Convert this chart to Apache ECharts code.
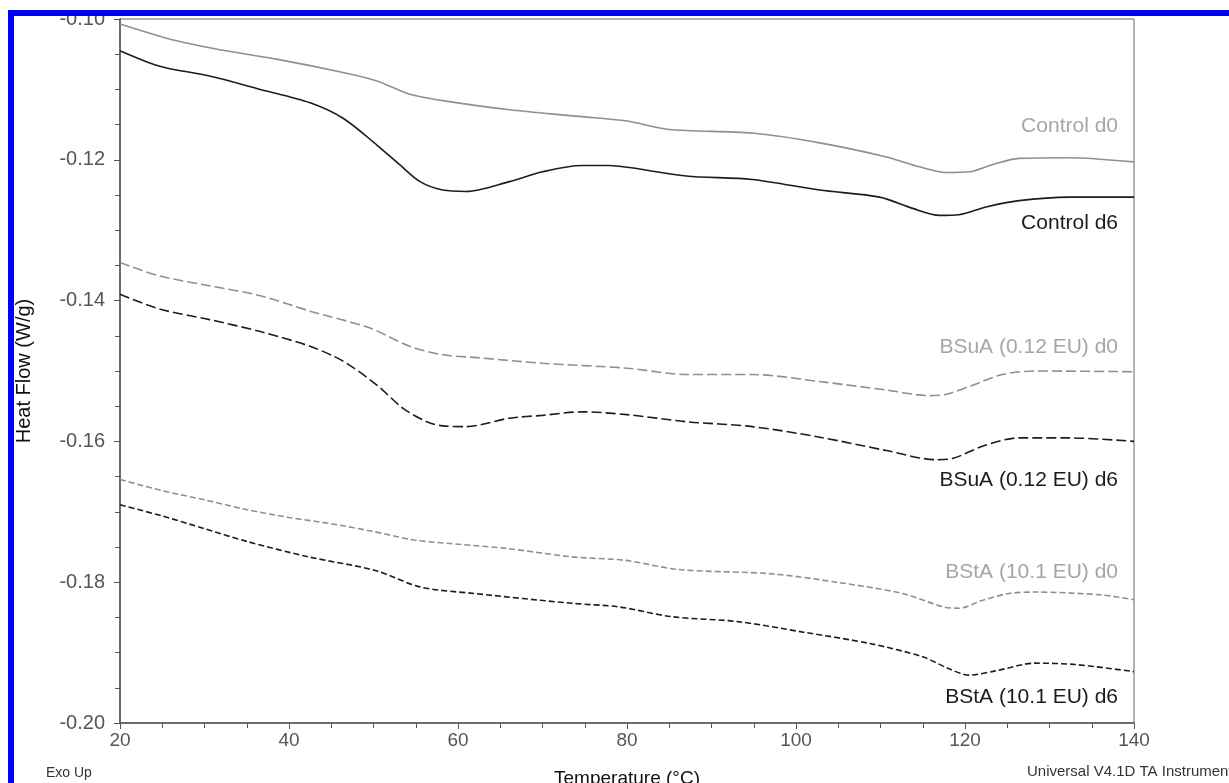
<!DOCTYPE html>
<html>
<head>
<meta charset="utf-8">
<script src="https://cdn.jsdelivr.net/npm/echarts@6/dist/echarts.min.js"></script>
<style>
html,body{margin:0;padding:0;background:#fff;}
#main{width:1229px;height:783px;}
</style>
</head>
<body>
<div id="main"></div>
<script>
// DSC curves, values
var ctrlD0T = [20, 26.7, 32, 38.5, 46.4, 50.4, 54.3, 58.2, 66.1, 74, 80, 85, 94.8, 102.8, 110.7, 114.6, 117.8, 120.5, 123.2, 126.4, 132.3, 140];
var ctrlD0 = [-0.1007, -0.1031, -0.1044, -0.1057, -0.1076, -0.1088, -0.1107, -0.1116, -0.1129, -0.1138, -0.1145, -0.1157, -0.1162, -0.1176, -0.1196, -0.1210, -0.1218, -0.1217, -0.1207, -0.1198, -0.1197, -0.1203];

var ctrlD6T = [20, 24.7, 30.6, 36.6, 42.5, 46.4, 50.4, 53.1, 55.5, 58.2, 61, 66.1, 70, 74.7, 77.9, 80.3, 87, 94.8, 102.8, 109.9, 113.8, 117, 119.3, 122.5, 126.4, 132.3, 140];
var ctrlD6 = [-0.1045, -0.1067, -0.1081, -0.1100, -0.1119, -0.1141, -0.1179, -0.1207, -0.1231, -0.1243, -0.1245, -0.1231, -0.1217, -0.1208, -0.1208, -0.1211, -0.1223, -0.1228, -0.1243, -0.1253, -0.1269, -0.1279, -0.1278, -0.1267, -0.1258, -0.1253, -0.1253];

var bsuaD0T = [20, 24.7, 30.6, 36.6, 42.5, 49.6, 54.3, 58.2, 62.2, 70, 80, 87, 94.8, 102.8, 110.7, 115.8, 117.8, 120.5, 124.4, 128.3, 140];
var bsuaD0 = [-0.1346, -0.1365, -0.1379, -0.1393, -0.1415, -0.1439, -0.1465, -0.1477, -0.1481, -0.1489, -0.1496, -0.1505, -0.1505, -0.1515, -0.1527, -0.1535, -0.1533, -0.1522, -0.1505, -0.1500, -0.1501];

var bsuaD6T = [20, 24.7, 30.6, 36.6, 42.5, 46.4, 50.4, 53.5, 56.3, 58.2, 61, 66.1, 70, 74.7, 80, 87, 94.8, 102.8, 110.7, 116.6, 118.6, 122.5, 126.4, 132.3, 140];
var bsuaD6 = [-0.1391, -0.1412, -0.1427, -0.1444, -0.1465, -0.1486, -0.1520, -0.1553, -0.1572, -0.1578, -0.1579, -0.1567, -0.1563, -0.1558, -0.1562, -0.1572, -0.1579, -0.1594, -0.1613, -0.1626, -0.1624, -0.1605, -0.1595, -0.1595, -0.1600];

var bstaD0T = [20, 25, 30, 35, 40, 45, 50, 54.8, 60, 65.7, 73.5, 79.8, 86.1, 97, 104.8, 112.6, 117.4, 119.3, 122, 125.2, 128.3, 136.1, 140];
var bstaD0 = [-0.1654, -0.1670, -0.1683, -0.1697, -0.1708, -0.1717, -0.1728, -0.1740, -0.1746, -0.1752, -0.1764, -0.1769, -0.1782, -0.1788, -0.1800, -0.1816, -0.1835, -0.1837, -0.1826, -0.1816, -0.1814, -0.1818, -0.1825];

var bstaD6T = [20, 25, 30, 35, 42.3, 50.1, 55.6, 61.9, 73.5, 79, 85.3, 93.1, 100.9, 108.7, 115, 118.1, 120.5, 123.6, 128.3, 133.1, 140];
var bstaD6 = [-0.1690, -0.1706, -0.1724, -0.1742, -0.1764, -0.1783, -0.1807, -0.1816, -0.1830, -0.1835, -0.1849, -0.1856, -0.1871, -0.1887, -0.1906, -0.1923, -0.1932, -0.1926, -0.1915, -0.1917, -0.1927];

var seriesNames = ['Control d0', 'Control d6', 'BSuA (0.12 EU) d0', 'BSuA (0.12 EU) d6', 'BStA (10.1 EU) d0', 'BStA (10.1 EU) d6'];

var xMin = 20, xMax = 140, xStep = 20;
var yMin = -0.20, yMax = -0.10, yStep = 0.02;

var FONT = '"Liberation Sans", Arial, sans-serif';
var GRAY = '#8f8f8f';
var DARK = '#1c1c1c';

function pairs(t, v) {
    var out = [];
    for (var i = 0; i < t.length; i++) {
        out.push([t[i], v[i]]);
    }
    return out;
}

function curve(name, t, v, color, dash) {
    return {
        name: name,
        type: 'line',
        smooth: 0.3,
        showSymbol: false,
        silent: true,
        data: pairs(t, v),
        lineStyle: {color: color, width: 1.6, type: dash}
    };
}

// curve labels at the right end of the plot
var labelY = [126, 223, 347, 480, 572, 697];
var labelColor = ['#a6a6a6', DARK, '#a6a6a6', DARK, '#a6a6a6', DARK];
var graphics = [];
for (var i = 0; i < seriesNames.length; i++) {
    graphics.push({
        type: 'text',
        x: 1118,
        y: labelY[i],
        style: {
            text: seriesNames[i],
            fill: labelColor[i],
            font: '21px ' + FONT,
            textAlign: 'right',
            textVerticalAlign: 'middle'
        }
    });
}
graphics.push({
    type: 'text', x: 46, y: 773,
    style: {text: 'Exo Up', fill: '#333', font: '14px ' + FONT, textAlign: 'left', textVerticalAlign: 'middle'}
});
graphics.push({
    type: 'text', x: 1027, y: 772,
    style: {text: 'Universal V4.1D TA Instruments', fill: '#333', font: '15px ' + FONT, textAlign: 'left', textVerticalAlign: 'middle'}
});
// blue frame of the scan (top and left edge)
graphics.push({type: 'rect', z: 100, shape: {x: 8, y: 10, width: 1221, height: 6}, style: {fill: '#0000ff'}});
graphics.push({type: 'rect', z: 100, shape: {x: 8, y: 10, width: 6, height: 773}, style: {fill: '#0000ff'}});

var chart = echarts.init(document.getElementById('main'));
var option = {
    animation: false,
    backgroundColor: '#fff',
    grid: {
        left: 120, top: 19, width: 1014, height: 704,
        containLabel: false,
        outerBoundsMode: 'none',
        show: true, borderColor: '#666', borderWidth: 1, backgroundColor: 'transparent'
    },
    xAxis: {
        type: 'value',
        min: xMin, max: xMax, interval: xStep,
        name: 'Temperature (°C)',
        nameLocation: 'middle',
        nameGap: 46,
        nameTextStyle: {fontFamily: FONT, fontSize: 19, color: '#111'},
        axisLine: {lineStyle: {color: '#555', width: 1.5}},
        axisTick: {show: true, inside: false, length: 6, lineStyle: {color: '#555'}},
        minorTick: {show: true, splitNumber: 4, length: 5, lineStyle: {color: '#555'}},
        splitLine: {show: false},
        axisLabel: {fontFamily: FONT, fontSize: 19, color: '#555', margin: 8}
    },
    yAxis: {
        type: 'value',
        min: yMin, max: yMax, interval: yStep,
        name: 'Heat Flow (W/g)',
        nameLocation: 'middle',
        nameGap: 86,
        nameRotate: 90,
        nameTextStyle: {fontFamily: FONT, fontSize: 20, color: '#111'},
        axisLine: {show: true, lineStyle: {color: '#555', width: 1.5}},
        axisTick: {show: true, inside: false, length: 6, lineStyle: {color: '#555'}},
        minorTick: {show: true, splitNumber: 4, length: 5, lineStyle: {color: '#555'}},
        splitLine: {show: false},
        axisLabel: {
            fontFamily: FONT, fontSize: 20, color: '#555', margin: 15,
            formatter: function (v) { return v.toFixed(2); }
        }
    },
    series: [
        curve(seriesNames[0], ctrlD0T, ctrlD0, GRAY, 'solid'),
        curve(seriesNames[1], ctrlD6T, ctrlD6, DARK, 'solid'),
        curve(seriesNames[2], bsuaD0T, bsuaD0, GRAY, [10, 4]),
        curve(seriesNames[3], bsuaD6T, bsuaD6, DARK, [10, 4]),
        curve(seriesNames[4], bstaD0T, bstaD0, GRAY, [6, 3]),
        curve(seriesNames[5], bstaD6T, bstaD6, DARK, [6, 3])
    ],
    graphic: graphics
};
chart.setOption(option);
</script>
</body>
</html>
